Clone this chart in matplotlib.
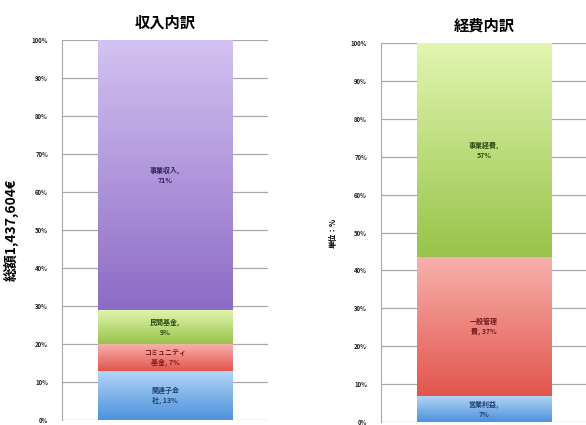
import numpy as np
import matplotlib
matplotlib.use('Agg')
import matplotlib.pyplot as plt
from matplotlib.colors import LinearSegmentedColormap

plt.rcParams['font.family'] = ['Noto Sans CJK JP', 'DejaVu Sans']

# 収入内訳 (%)
income_labels = ['関連子会\n社', 'コミュニティ\n基金', '民間基金', '事業収入']
income_values = [13, 7, 9, 71]

# 経費内訳 (%)
expense_labels = ['営業利益', '一般管理\n費', '事業経費']
expense_values = [7, 37, 57]

total_label = '総額1,437,604€'
unit_label = '単位：%'

# (top colour, bottom colour) of each segment's gradient
grad_blue = ('#b4d6f7', '#4d92dc')
grad_red = ('#f7b0ac', '#e2564c')
grad_green = ('#e2f5b0', '#97c44a')
grad_purple = ('#d3c2f1', '#8d6bc6')

income_colors = [grad_blue, grad_red, grad_green, grad_purple]
expense_colors = [grad_blue, grad_red, grad_green]

W, H = 586, 425


def stacked_bar(ax, labels, values, colors, title, text_colors):
    vals = np.array(values, dtype=float)
    pct = vals / vals.sum() * 100
    bottoms = np.concatenate([[0], np.cumsum(pct)[:-1]])
    bars = ax.bar([0] * len(pct), pct, bottom=bottoms, width=0.655,
                  color='none', edgecolor='none', zorder=3)
    for bar, (top, bot), lab, v, tc in zip(bars, colors, labels, values, text_colors):
        x, y = bar.get_x(), bar.get_y()
        w, h = bar.get_width(), bar.get_height()
        cmap = LinearSegmentedColormap.from_list('g', [bot, top])
        grad = np.linspace(1, 0, 64).reshape(-1, 1)
        ax.imshow(grad, cmap=cmap, extent=[x, x + w, y, y + h],
                  aspect='auto', origin='upper', zorder=3, vmin=0, vmax=1)
        if '\n' in lab:
            txt = f'{lab}, {v}%'
        else:
            txt = f'{lab},\n{v}%'
        ax.text(x + w / 2, y + h / 2, txt, ha='center', va='center',
                fontsize=5, fontweight='bold', color=tc, linespacing=1.5,
                zorder=4)

    ax.set_xlim(-0.5, 0.5)
    ax.set_ylim(0, 100)
    ax.set_yticks(np.arange(0, 101, 10))
    ax.set_yticklabels([f'{t}%' for t in range(0, 101, 10)])
    ax.tick_params(axis='y', labelsize=4.3, length=0, pad=10,
                   labelcolor='#222222')
    for t in ax.get_yticklabels():
        t.set_fontweight('bold')
    ax.set_xticks([])
    ax.grid(axis='y', color='#a8a8a8', linewidth=0.9, zorder=0)
    for s in ['top', 'right', 'bottom']:
        ax.spines[s].set_visible(False)
    ax.spines['left'].set_color('#a8a8a8')
    ax.set_title(title, fontsize=11, fontweight='bold', pad=9)


fig = plt.figure(figsize=(W / 100, H / 100), dpi=100)

ax1 = fig.add_axes([62 / W, 1 - 420 / H, 206 / W, 380 / H])
stacked_bar(ax1, income_labels, income_values, income_colors, '収入内訳',
            ['#1f3f6e', '#7a1c1c', '#2e4a10', '#2e2357'])
ax1.set_ylabel(total_label, fontsize=10, fontweight='bold', labelpad=9)

ax2 = fig.add_axes([381 / W, 1 - 422 / H, 206 / W, 379 / H])
stacked_bar(ax2, expense_labels, expense_values, expense_colors, '経費内訳',
            ['#1f3f6e', '#6e1a1a', '#2e4a10'])
ax2.set_ylabel(unit_label, fontsize=5.5, fontweight='bold', labelpad=9)

fig.savefig('out.png', dpi=100)
